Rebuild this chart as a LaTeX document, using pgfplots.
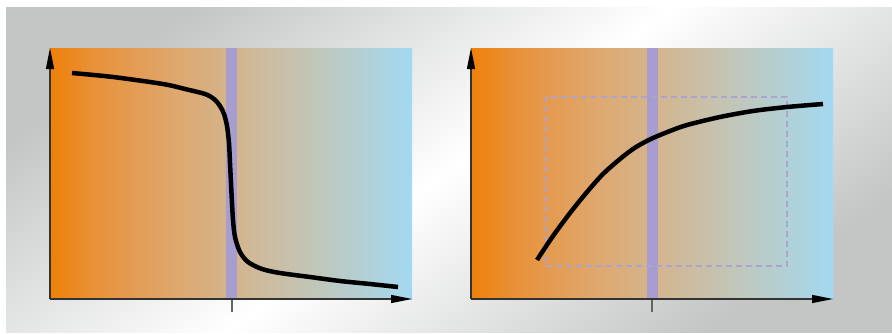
\documentclass[border=0pt]{standalone}
\usepackage{pgfplots}
\pgfplotsset{compat=1.18}
\usetikzlibrary{arrows.meta}

\definecolor{bggray}{RGB}{196,198,198}
\definecolor{bandpurple}{RGB}{168,157,207}
\definecolor{dashpurple}{RGB}{172,163,206}
\definecolor{axisline}{RGB}{50,50,50}
\definecolor{tickgray}{RGB}{100,100,100}
\definecolor{g0}{RGB}{238,128,10}
\definecolor{g1}{RGB}{232,145,56}
\definecolor{g2}{RGB}{222,168,112}
\definecolor{g3}{RGB}{212,180,140}
\definecolor{g4}{RGB}{196,196,180}
\definecolor{g5}{RGB}{178,208,214}
\definecolor{g6}{RGB}{163,217,242}

% orange -> tan -> light blue, left to right
\pgfdeclarehorizontalshading{panelgrad}{100bp}{%
  color(0bp)=(g0); color(25bp)=(g0); color(31bp)=(g1); color(42.5bp)=(g2);
  color(50bp)=(g3); color(60bp)=(g4); color(68.5bp)=(g5); color(75bp)=(g6);
  color(100bp)=(g6)}

\tikzset{arrowaxis/.style={axisline, line width=1.2pt, -{Triangle[length=21pt,width=8pt,black]}}}

\pgfplotsset{
  panel/.style={
    scale only axis, width=362pt, height=251pt, anchor=south west,
    ymin=34, ymax=285, clip=false,
    axis lines*=left,
    axis line style={draw=none},
    ytick=\empty, xticklabels={},
    tick align=outside, major tick length=13pt,
    xtick style={tickgray, line width=1.5pt},
    axis background/.style={shade, shading=panelgrad},
  },
  curve/.style={black, line width=4.5pt, smooth, tension=0.5, no markers},
}

\begin{document}
\begin{tikzpicture}[x=1pt,y=1pt]
\useasboundingbox (0,0) rectangle (892,333);
\fill[white] (0,0) rectangle (892,333);
\shade[top color=bggray, bottom color=bggray, middle color=white, shading angle=36]
  (6,1) rectangle (892,325);

% left panel
\begin{axis}[panel, at={(50pt,34pt)}, xmin=50, xmax=412, xtick={232}]
\addplot[fill=bandpurple, draw=none] coordinates {(226,34) (226,285) (237,285) (237,34)} -- cycle;
\addplot[curve] coordinates {
  (72,260) (113,256) (163,249) (185,244) (205,239) (214,234) (220,227)
  (224,219) (227,207) (229,190) (230,170) (231,150) (232,130) (233,113)
  (235,96) (240,81) (248,71) (262,64) (280,60) (310,56) (340,52)
  (370,49) (398,46)
};
\draw[arrowaxis] (rel axis cs:0,0) -- (rel axis cs:1,0);
\draw[arrowaxis] (rel axis cs:0,0) -- (rel axis cs:0,1);
\end{axis}

% right panel
\begin{axis}[panel, at={(471pt,34pt)}, xmin=471, xmax=833, xtick={652}]
\addplot[fill=bandpurple, draw=none] coordinates {(647,34) (647,285) (658,285) (658,34)} -- cycle;
\addplot[dashpurple, line width=1.5pt, dash pattern=on 6pt off 4pt] coordinates {
  (546,67) (787,67) (787,236) (546,236)
} -- cycle;
\addplot[curve] coordinates {
  (537,73) (553,97) (570,120) (587,141) (603,159) (620,174) (633,184)
  (643,190) (653,195) (670,202) (687,208) (720,216) (753,222)
  (787,226) (823,229)
};
\draw[arrowaxis] (rel axis cs:0,0) -- (rel axis cs:1,0);
\draw[arrowaxis] (rel axis cs:0,0) -- (rel axis cs:0,1);
\end{axis}
\end{tikzpicture}
\end{document}
